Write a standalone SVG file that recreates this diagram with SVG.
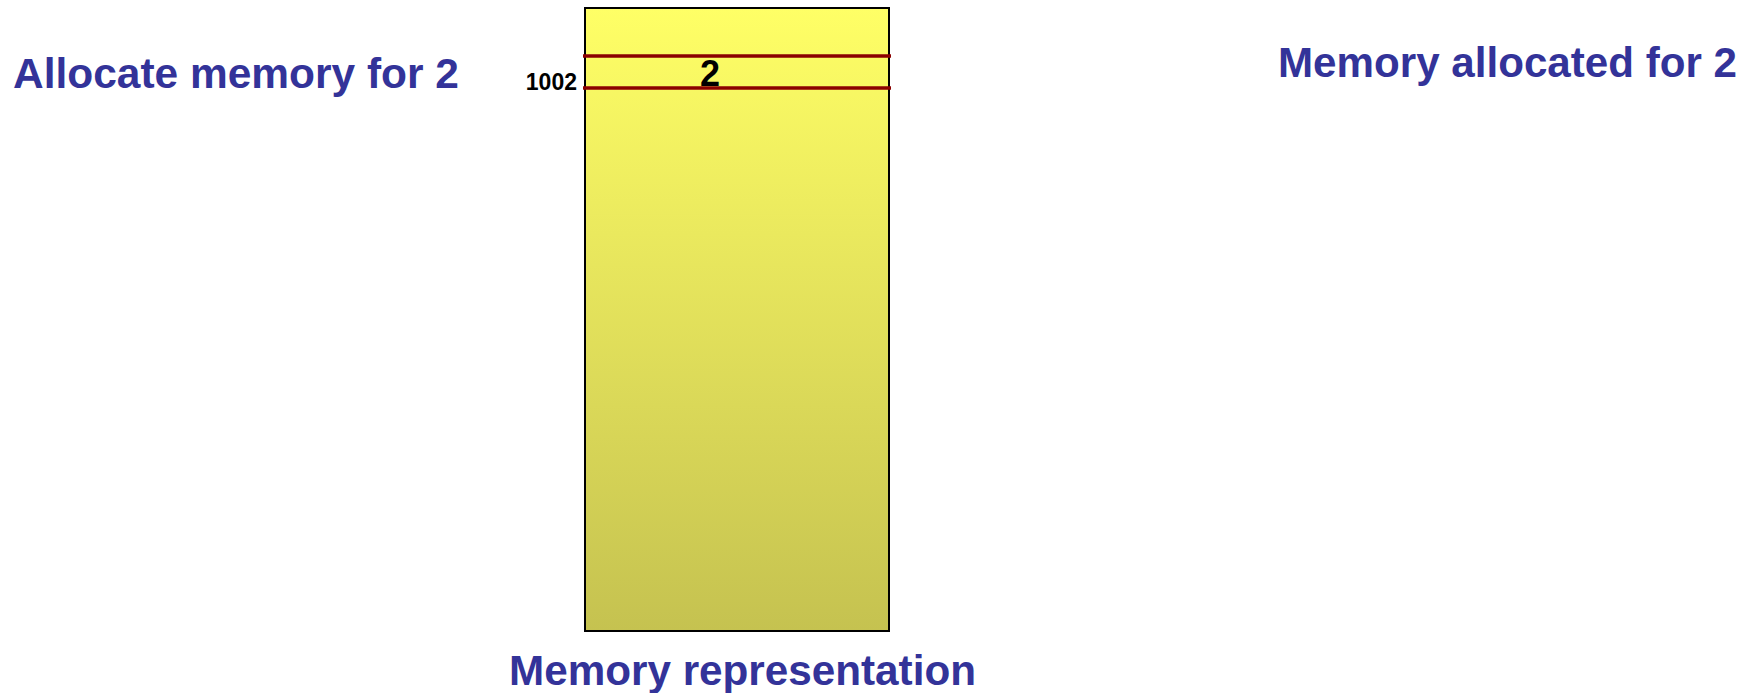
<svg xmlns="http://www.w3.org/2000/svg" width="1758" height="693" viewBox="0 0 1758 693">
  <style>
    .title { font-family: "Liberation Sans", Arial, sans-serif; font-weight: bold; font-size: 42px; fill: #333399; }
    .addr { font-family: "Liberation Sans", Arial, sans-serif; font-weight: bold; font-size: 23px; fill: #000000; }
    .val { font-family: "Liberation Sans", Arial, sans-serif; font-weight: bold; font-size: 36px; fill: #000000; }
    .divider { stroke: #8B0000; stroke-width: 3.5; }
  </style>
  <defs>
    <linearGradient id="memGrad" x1="0" y1="0" x2="0" y2="1">
      <stop offset="0" stop-color="#FFFF66"/>
      <stop offset="1" stop-color="#C5C250"/>
    </linearGradient>
  </defs>
  <rect width="1758" height="693" fill="#FFFFFF"/>
  <text class="title" x="13" y="88" textLength="446" lengthAdjust="spacingAndGlyphs">Allocate memory for 2</text>
  <text class="title" x="1278" y="77" textLength="459" lengthAdjust="spacingAndGlyphs">Memory allocated for 2</text>
  <g id="memory">
    <rect x="585" y="8" width="304" height="623" fill="url(#memGrad)" stroke="#000000" stroke-width="2"/>
    <line class="divider" x1="583" y1="56" x2="891" y2="56"/>
    <line class="divider" x1="583" y1="88" x2="891" y2="88"/>
    <text class="addr" x="577" y="90" text-anchor="end">1002</text>
    <text class="val" x="710" y="86" text-anchor="middle">2</text>
  </g>
  <text class="title" x="509" y="685" textLength="467" lengthAdjust="spacingAndGlyphs">Memory representation</text>
</svg>
